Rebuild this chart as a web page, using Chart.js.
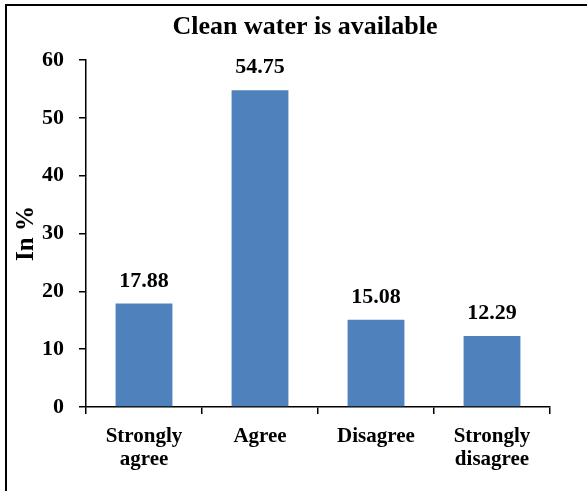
<!DOCTYPE html>
<html>
<head>
<meta charset="utf-8">
<script src="https://cdn.jsdelivr.net/npm/chart.js@4/dist/chart.umd.min.js"></script>
<style>
  html, body { margin: 0; padding: 0; background: #fff; }
  #wrap { width: 587px; height: 491px; }
</style>
</head>
<body>
<div id="wrap"><canvas id="chart" width="587" height="491"></canvas></div>
<script>
// Clean water survey responses (percent)
const TITLE = "Clean water is available";
const CATEGORIES = [["Strongly", "agree"], "Agree", "Disagree", ["Strongly", "disagree"]];
const VALUES = [17.88, 54.75, 15.08, 12.29];
const Y_MIN = 0, Y_MAX = 60, Y_STEP = 10;

const SERIF = "'Liberation Serif', 'Times New Roman', serif";
const BAR_COLOR = "#4F81BD";

// outer frame (only top and left edges fall inside the picture) + title
const framePlugin = {
  id: "frame",
  afterDraw(chart){
    const ctx = chart.ctx;
    ctx.save();
    ctx.fillStyle = "#000";
    ctx.fillRect(5, 4, chart.width - 5, 2);
    ctx.fillRect(5, 4, 2, chart.height - 4);
    ctx.font = `bold 26px ${SERIF}`;
    ctx.textAlign = "center";
    ctx.textBaseline = "alphabetic";
    ctx.fillText(TITLE, 305, 34);
    ctx.restore();
  }
};

// value labels above the bars
const valueLabels = {
  id: "valueLabels",
  afterDatasetsDraw(chart){
    const ctx = chart.ctx;
    const meta = chart.getDatasetMeta(0);
    ctx.save();
    ctx.font = `bold 22px ${SERIF}`;
    ctx.fillStyle = "#000";
    ctx.textAlign = "center";
    ctx.textBaseline = "alphabetic";
    meta.data.forEach((bar, i) => {
      ctx.fillText(VALUES[i].toFixed(2), bar.x, bar.y - 17);
    });
    ctx.restore();
  }
};

new Chart(document.getElementById("chart"), {
  type: "bar",
  data: {
    labels: CATEGORIES,
    datasets: [{
      data: VALUES,
      backgroundColor: BAR_COLOR,
      borderWidth: 0,
      barPercentage: 0.49,
      categoryPercentage: 1.0
    }]
  },
  options: {
    responsive: false,
    animation: false,
    layout: { padding: { left: 0, right: 37, top: 60, bottom: 0 } },
    plugins: {
      legend: { display: false },
      tooltip: { enabled: false },
      title: { display: false }
    },
    scales: {
      y: {
        min: Y_MIN, max: Y_MAX,
        ticks: {
          stepSize: Y_STEP,
          color: "#000",
          padding: 15,
          font: { family: SERIF, size: 22, weight: "bold" }
        },
        grid: { drawOnChartArea: false, drawTicks: true, tickLength: 7, color: "#000", lineWidth: 1.5 },
        border: { display: true, color: "#000", width: 1.5 },
        title: {
          display: true,
          text: "In %",
          color: "#000",
          font: { family: SERIF, size: 25, weight: "bold", lineHeight: 1.2 },
          padding: { top: 12, bottom: 0 }
        },
        afterFit(scale){ scale.width = 86; }
      },
      x: {
        ticks: {
          color: "#000",
          padding: 11,
          maxRotation: 0,
          font: { family: SERIF, size: 21, weight: "bold", lineHeight: 1.1 }
        },
        grid: { drawOnChartArea: false, drawTicks: true, tickLength: 7, color: "#000", lineWidth: 1.5 },
        border: { display: true, color: "#000", width: 1.5 },
        afterFit(scale){ scale.height = 84; }
      }
    }
  },
  plugins: [valueLabels, framePlugin]
});
</script>
</body>
</html>
